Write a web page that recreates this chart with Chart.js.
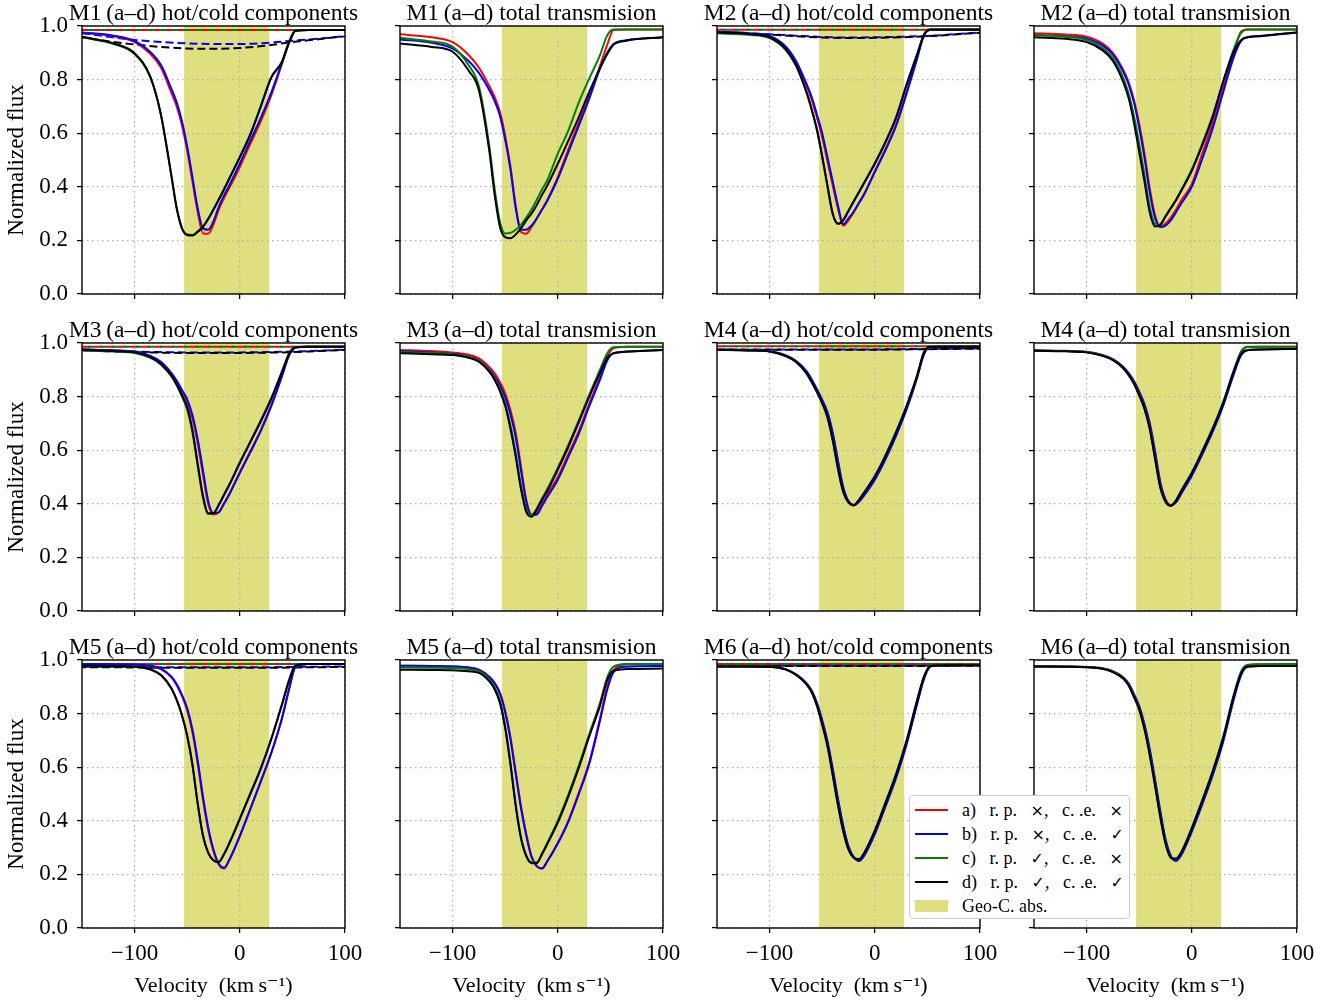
<!DOCTYPE html>
<html>
<head>
<meta charset="utf-8">
<title>Line profiles M1–M6</title>
<script src="https://cdn.jsdelivr.net/npm/chart.js@4.4.0/dist/chart.umd.min.js"></script>
<style>
  html, body { margin: 0; padding: 0; background: #fff; }
  #figure { position: relative; width: 1334px; height: 1003px; overflow: hidden; }
  #figure canvas { position: absolute; }
  #legend {
    position: absolute; left: 909px; top: 795px; width: 219px; height: 120px;
    padding-top: 2px; background: #fff; border: 1px solid #cccccc; border-radius: 4px;
    font-family: 'Liberation Serif', 'DejaVu Serif', serif; font-size: 18px; color: #000;
  }
  .legend-row { position: relative; height: 24px; line-height: 24px; white-space: pre; }
  .legend-line { position: absolute; left: 5px; top: 11px; width: 33px; height: 2px; }
  .legend-patch { position: absolute; left: 5px; top: 6px; width: 33px; height: 12px; }
  .legend-text { position: absolute; left: 52px; top: 0; }
  .legend-sym { font-family: 'DejaVu Sans', sans-serif; font-size: 16px; }
</style>
</head>
<body>
<div id="figure"></div>
<script>
// ---------- Data ----------
// velocity grid (km/s) shared by the solid profiles
const velocity = [-150, -120, -100, -85, -75, -65, -60, -55, -50, -45, -40, -35, -30, -25, -20, -15, -10, 0, 10, 20, 30, 40, 47, 53, 65, 100];
// coarser grid for the dashed component profiles
const velocityDash = [-150, -125, -100, -75, -50, -25, 0, 25, 50, 75, 100];

const geoBand = [-53, 28];
const xTickValues = [-100, 0, 100];

// M1
const m1SplitRed   = [0.975,0.962,0.940,0.895,0.845,0.750,0.700,0.630,0.535,0.420,0.305,0.226,0.225,0.260,0.315,0.358,0.395,0.474,0.560,0.645,0.742,0.858,0.940,0.982,0.985,0.985];
const m1SplitBlue  = [0.976,0.964,0.944,0.903,0.855,0.765,0.715,0.645,0.550,0.435,0.320,0.245,0.240,0.272,0.325,0.368,0.405,0.486,0.572,0.657,0.752,0.862,0.940,0.982,0.985,0.985];
const m1SplitGreen = [0.958,0.933,0.895,0.808,0.668,0.442,0.322,0.247,0.222,0.220,0.234,0.252,0.282,0.317,0.354,0.392,0.432,0.512,0.597,0.702,0.810,0.867,0.943,0.983,0.985,0.985];
const m1SplitBlack = [0.960,0.935,0.898,0.810,0.670,0.440,0.320,0.245,0.220,0.218,0.232,0.250,0.280,0.315,0.352,0.390,0.430,0.510,0.595,0.700,0.808,0.865,0.940,0.982,0.985,0.985];
const m1DashRed    = [0.985,0.985,0.985,0.985,0.985,0.985,0.985,0.985,0.985,0.985,0.985];
const m1DashBlue   = [0.973,0.960,0.948,0.940,0.935,0.933,0.933,0.937,0.945,0.953,0.962];
const m1DashGreen  = [0.985,0.985,0.985,0.985,0.985,0.985,0.985,0.985,0.985,0.985,0.985];
const m1DashBlack  = [0.958,0.943,0.931,0.922,0.916,0.915,0.918,0.927,0.940,0.951,0.962];
const m1TotalRed   = [0.969,0.958,0.940,0.893,0.845,0.775,0.735,0.680,0.590,0.475,0.330,0.232,0.225,0.250,0.282,0.315,0.350,0.436,0.540,0.640,0.740,0.850,0.930,0.985,0.987,0.987];
const m1TotalBlue  = [0.950,0.937,0.916,0.870,0.825,0.760,0.720,0.665,0.575,0.465,0.320,0.240,0.240,0.255,0.282,0.315,0.348,0.430,0.528,0.628,0.730,0.840,0.900,0.933,0.947,0.958];
const m1TotalGreen = [0.956,0.942,0.923,0.855,0.775,0.550,0.390,0.270,0.226,0.228,0.240,0.258,0.285,0.315,0.352,0.390,0.425,0.524,0.610,0.715,0.805,0.890,0.965,0.987,0.987,0.987];
const m1TotalBlack = [0.935,0.922,0.904,0.835,0.760,0.530,0.370,0.250,0.212,0.208,0.222,0.245,0.275,0.300,0.332,0.370,0.405,0.486,0.572,0.660,0.755,0.842,0.895,0.930,0.945,0.958];

// M2
const m2SplitRed   = [0.978,0.972,0.961,0.922,0.866,0.778,0.725,0.658,0.585,0.495,0.405,0.318,0.255,0.275,0.305,0.340,0.375,0.458,0.540,0.630,0.750,0.880,0.970,0.986,0.986,0.986];
const m2SplitBlue  = [0.979,0.973,0.963,0.925,0.870,0.785,0.735,0.670,0.600,0.510,0.420,0.330,0.260,0.282,0.308,0.340,0.372,0.455,0.535,0.625,0.745,0.875,0.968,0.985,0.985,0.985];
const m2SplitGreen = [0.973,0.967,0.955,0.912,0.852,0.752,0.686,0.610,0.510,0.400,0.298,0.262,0.277,0.312,0.347,0.382,0.417,0.488,0.567,0.657,0.780,0.893,0.970,0.987,0.987,0.987];
const m2SplitBlack = [0.976,0.970,0.958,0.915,0.855,0.755,0.690,0.615,0.515,0.405,0.300,0.262,0.275,0.310,0.345,0.380,0.415,0.486,0.565,0.655,0.777,0.890,0.968,0.987,0.987,0.987];
const m2DashRed    = [0.986,0.986,0.986,0.986,0.986,0.986,0.986,0.986,0.986,0.986,0.986];
const m2DashBlue   = [0.976,0.972,0.969,0.964,0.959,0.957,0.958,0.960,0.963,0.969,0.976];
const m2DashGreen  = [0.986,0.986,0.986,0.986,0.986,0.986,0.986,0.986,0.986,0.986,0.986];
const m2DashBlack  = [0.975,0.971,0.968,0.962,0.957,0.955,0.956,0.958,0.962,0.968,0.975];
const m2TotalRed   = [0.973,0.968,0.960,0.935,0.900,0.835,0.790,0.725,0.635,0.525,0.395,0.295,0.252,0.262,0.285,0.315,0.350,0.410,0.525,0.640,0.770,0.900,0.980,0.987,0.987,0.987];
const m2TotalBlue  = [0.966,0.962,0.953,0.928,0.893,0.828,0.782,0.715,0.622,0.510,0.380,0.285,0.250,0.255,0.275,0.305,0.338,0.400,0.505,0.620,0.755,0.885,0.945,0.958,0.962,0.976];
const m2TotalGreen = [0.966,0.960,0.948,0.918,0.880,0.805,0.748,0.665,0.560,0.445,0.325,0.262,0.258,0.288,0.320,0.352,0.388,0.465,0.562,0.668,0.795,0.915,0.975,0.987,0.987,0.987];
const m2TotalBlack = [0.958,0.952,0.940,0.910,0.870,0.790,0.730,0.640,0.530,0.420,0.305,0.252,0.258,0.290,0.320,0.350,0.385,0.460,0.555,0.662,0.795,0.905,0.948,0.958,0.963,0.976];

// M3
const m3SplitRed   = [0.976,0.972,0.967,0.950,0.927,0.884,0.855,0.818,0.780,0.718,0.625,0.508,0.398,0.360,0.368,0.402,0.437,0.518,0.596,0.676,0.770,0.878,0.957,0.983,0.986,0.986];
const m3SplitBlue  = [0.976,0.973,0.968,0.952,0.930,0.888,0.860,0.825,0.790,0.730,0.640,0.525,0.410,0.365,0.368,0.400,0.435,0.515,0.592,0.672,0.765,0.875,0.955,0.982,0.986,0.986];
const m3SplitGreen = [0.972,0.968,0.963,0.945,0.920,0.875,0.842,0.800,0.752,0.665,0.540,0.422,0.362,0.365,0.397,0.435,0.472,0.555,0.633,0.712,0.796,0.893,0.962,0.985,0.986,0.986];
const m3SplitBlack = [0.974,0.970,0.965,0.947,0.922,0.878,0.845,0.805,0.760,0.675,0.550,0.430,0.365,0.365,0.395,0.433,0.470,0.552,0.630,0.708,0.792,0.890,0.960,0.985,0.986,0.986];
const m3DashRed    = [0.986,0.986,0.986,0.986,0.986,0.986,0.986,0.986,0.986,0.986,0.986];
const m3DashBlue   = [0.976,0.971,0.968,0.966,0.965,0.965,0.965,0.966,0.968,0.971,0.975];
const m3DashGreen  = [0.986,0.986,0.986,0.986,0.986,0.986,0.986,0.986,0.986,0.986,0.986];
const m3DashBlack  = [0.974,0.969,0.966,0.964,0.963,0.963,0.963,0.964,0.966,0.970,0.974];
const m3TotalRed   = [0.974,0.970,0.965,0.957,0.943,0.910,0.887,0.855,0.812,0.750,0.665,0.540,0.416,0.360,0.365,0.400,0.435,0.500,0.585,0.672,0.775,0.872,0.950,0.980,0.986,0.986];
const m3TotalBlue  = [0.970,0.965,0.960,0.950,0.935,0.900,0.875,0.842,0.798,0.735,0.648,0.525,0.408,0.358,0.360,0.392,0.425,0.490,0.575,0.662,0.765,0.862,0.935,0.962,0.968,0.974];
const m3TotalGreen = [0.967,0.963,0.958,0.948,0.933,0.896,0.868,0.828,0.775,0.692,0.588,0.468,0.380,0.358,0.382,0.420,0.455,0.535,0.620,0.712,0.808,0.900,0.962,0.984,0.986,0.986];
const m3TotalBlack = [0.962,0.958,0.955,0.945,0.930,0.892,0.862,0.820,0.765,0.680,0.575,0.455,0.370,0.352,0.378,0.415,0.448,0.527,0.612,0.705,0.800,0.888,0.945,0.962,0.967,0.974];

// M4
const m4SplitRed   = [0.975,0.973,0.969,0.954,0.933,0.894,0.862,0.826,0.786,0.740,0.662,0.557,0.460,0.408,0.394,0.408,0.433,0.492,0.567,0.655,0.753,0.870,0.962,0.986,0.987,0.987];
const m4SplitBlue  = [0.975,0.973,0.969,0.955,0.934,0.895,0.864,0.828,0.788,0.742,0.665,0.560,0.462,0.410,0.395,0.408,0.432,0.490,0.565,0.652,0.750,0.868,0.960,0.985,0.986,0.986];
const m4SplitGreen = [0.974,0.972,0.968,0.951,0.929,0.886,0.853,0.816,0.774,0.722,0.636,0.530,0.443,0.404,0.396,0.416,0.444,0.504,0.580,0.667,0.764,0.877,0.969,0.986,0.987,0.987];
const m4SplitBlack = [0.974,0.972,0.968,0.952,0.930,0.888,0.855,0.818,0.776,0.724,0.638,0.532,0.445,0.405,0.395,0.415,0.442,0.502,0.578,0.665,0.762,0.875,0.968,0.986,0.986,0.986];
const m4DashRed    = [0.988,0.988,0.988,0.988,0.988,0.988,0.988,0.988,0.988,0.988,0.988];
const m4DashBlue   = [0.976,0.976,0.976,0.976,0.976,0.976,0.976,0.977,0.978,0.979,0.980];
const m4DashGreen  = [0.988,0.988,0.988,0.988,0.988,0.988,0.988,0.988,0.988,0.988,0.988];
const m4DashBlack  = [0.975,0.975,0.975,0.975,0.975,0.975,0.975,0.976,0.977,0.978,0.979];
const m4TotalRed   = [0.973,0.971,0.967,0.955,0.940,0.911,0.888,0.858,0.818,0.772,0.702,0.597,0.482,0.417,0.395,0.407,0.440,0.508,0.588,0.674,0.772,0.890,0.965,0.985,0.986,0.986];
const m4TotalBlue  = [0.972,0.970,0.966,0.954,0.939,0.910,0.887,0.857,0.817,0.770,0.700,0.595,0.480,0.415,0.393,0.405,0.438,0.505,0.585,0.670,0.768,0.885,0.955,0.973,0.976,0.978];
const m4TotalGreen = [0.972,0.970,0.966,0.953,0.937,0.906,0.881,0.849,0.806,0.757,0.682,0.572,0.464,0.410,0.395,0.414,0.450,0.517,0.598,0.684,0.782,0.900,0.970,0.986,0.986,0.986];
const m4TotalBlack = [0.971,0.969,0.965,0.952,0.936,0.905,0.880,0.848,0.805,0.755,0.680,0.570,0.462,0.408,0.393,0.412,0.448,0.515,0.595,0.680,0.778,0.895,0.960,0.974,0.976,0.978];

// M5
const m5SplitRed   = [0.985,0.984,0.983,0.978,0.966,0.935,0.906,0.865,0.812,0.730,0.612,0.478,0.365,0.286,0.237,0.222,0.253,0.342,0.443,0.546,0.653,0.780,0.893,0.974,0.985,0.985];
const m5SplitBlue  = [0.985,0.984,0.983,0.979,0.968,0.938,0.910,0.870,0.820,0.740,0.625,0.490,0.375,0.292,0.240,0.225,0.255,0.344,0.445,0.548,0.655,0.782,0.895,0.975,0.985,0.985];
const m5SplitGreen = [0.978,0.977,0.975,0.964,0.943,0.893,0.850,0.792,0.715,0.607,0.462,0.343,0.280,0.253,0.248,0.277,0.318,0.409,0.503,0.598,0.708,0.835,0.928,0.981,0.985,0.985];
const m5SplitBlack = [0.979,0.978,0.976,0.965,0.945,0.895,0.852,0.795,0.718,0.610,0.465,0.345,0.280,0.252,0.246,0.275,0.315,0.406,0.500,0.595,0.705,0.832,0.925,0.980,0.985,0.985];
const m5DashRed    = [0.985,0.985,0.985,0.985,0.985,0.985,0.985,0.985,0.985,0.985,0.985];
const m5DashBlue   = [0.975,0.975,0.974,0.973,0.973,0.973,0.973,0.973,0.974,0.975,0.976];
const m5DashGreen  = [0.985,0.985,0.985,0.985,0.985,0.985,0.985,0.985,0.985,0.985,0.985];
const m5DashBlack  = [0.973,0.973,0.972,0.971,0.971,0.971,0.971,0.971,0.972,0.973,0.974];
const m5TotalRed   = [0.979,0.978,0.976,0.972,0.964,0.938,0.915,0.878,0.810,0.712,0.583,0.455,0.352,0.268,0.232,0.222,0.250,0.318,0.400,0.505,0.620,0.780,0.900,0.962,0.983,0.985];
const m5TotalBlue  = [0.979,0.978,0.976,0.972,0.963,0.936,0.912,0.874,0.805,0.705,0.575,0.447,0.345,0.265,0.230,0.222,0.248,0.315,0.396,0.500,0.614,0.772,0.890,0.955,0.975,0.978];
const m5TotalGreen = [0.972,0.971,0.970,0.966,0.958,0.928,0.898,0.848,0.752,0.618,0.462,0.340,0.272,0.245,0.245,0.278,0.318,0.400,0.498,0.606,0.725,0.838,0.935,0.975,0.985,0.985];
const m5TotalBlack = [0.964,0.963,0.962,0.958,0.952,0.920,0.890,0.840,0.745,0.610,0.455,0.335,0.268,0.242,0.242,0.275,0.313,0.393,0.490,0.598,0.716,0.828,0.925,0.960,0.966,0.968];

// M6
const m6SplitRed   = [0.977,0.976,0.975,0.966,0.946,0.913,0.884,0.837,0.771,0.693,0.590,0.478,0.378,0.302,0.264,0.251,0.272,0.353,0.455,0.560,0.685,0.835,0.934,0.977,0.981,0.982];
const m6SplitBlue  = [0.976,0.976,0.975,0.966,0.947,0.914,0.886,0.840,0.775,0.698,0.595,0.482,0.382,0.305,0.265,0.250,0.270,0.350,0.452,0.557,0.682,0.832,0.932,0.976,0.980,0.980];
const m6SplitGreen = [0.976,0.976,0.975,0.965,0.945,0.909,0.879,0.829,0.758,0.678,0.570,0.458,0.361,0.292,0.262,0.257,0.282,0.364,0.467,0.573,0.698,0.848,0.942,0.978,0.981,0.982];
const m6SplitBlack = [0.976,0.976,0.975,0.965,0.945,0.910,0.880,0.830,0.760,0.680,0.572,0.460,0.362,0.293,0.262,0.256,0.280,0.362,0.465,0.570,0.695,0.845,0.940,0.978,0.980,0.980];
const m6DashRed    = [0.985,0.985,0.985,0.985,0.985,0.985,0.985,0.985,0.985,0.985,0.985];
const m6DashBlue   = [0.979,0.979,0.979,0.979,0.979,0.979,0.979,0.979,0.979,0.979,0.980];
const m6DashGreen  = [0.985,0.985,0.985,0.985,0.985,0.985,0.985,0.985,0.985,0.985,0.985];
const m6DashBlack  = [0.978,0.978,0.978,0.978,0.978,0.978,0.978,0.978,0.978,0.979,0.979];
const m6TotalRed   = [0.977,0.976,0.974,0.969,0.958,0.935,0.912,0.872,0.826,0.757,0.663,0.550,0.432,0.328,0.268,0.252,0.275,0.362,0.465,0.575,0.702,0.860,0.950,0.980,0.984,0.985];
const m6TotalBlue  = [0.976,0.975,0.973,0.968,0.957,0.934,0.911,0.872,0.828,0.760,0.668,0.556,0.438,0.332,0.270,0.250,0.272,0.360,0.462,0.572,0.698,0.855,0.945,0.975,0.978,0.978];
const m6TotalGreen = [0.977,0.976,0.974,0.968,0.956,0.931,0.906,0.864,0.817,0.745,0.648,0.535,0.418,0.318,0.264,0.259,0.284,0.374,0.478,0.588,0.716,0.872,0.958,0.982,0.984,0.985];
const m6TotalBlack = [0.976,0.975,0.973,0.967,0.955,0.930,0.905,0.862,0.815,0.742,0.645,0.532,0.415,0.315,0.262,0.258,0.282,0.372,0.475,0.585,0.712,0.868,0.952,0.976,0.978,0.978];

// ---------- Style ----------
const MODEL_COLORS = ["#ff0000", "#0000ff", "#008000", "#000000"];
const BAND_COLOR = "#dfdf80";
const SERIF = "'Liberation Serif', 'DejaVu Serif', serif";
const legendLabels = [
  "a)   r. p.   \u00d7,   c. .e.   \u00d7",
  "b)   r. p.   \u00d7,   c. .e.   \u2713",
  "c)   r. p.   \u2713,   c. .e.   \u00d7",
  "d)   r. p.   \u2713,   c. .e.   \u2713",
  "Geo-C. abs."
];

// grid of panels: plot-area corners in page pixels
const colLeft = [82, 400, 717, 1034];
const rowTop = [26, 343, 660];
const PLOT_W = 263;
const PLOT_H = 268;
const AXIS_W = 82;      // room left of each plot for y ticks / label
const TITLE_H = 26;
const PAD_RIGHT = 30;

const panels = [
  { title: "M1\u2009(a\u2013d) hot/cold components", solid: [m1SplitRed, m1SplitBlue, m1SplitGreen, m1SplitBlack], dashed: [m1DashRed, m1DashBlue, m1DashGreen, m1DashBlack] },
  { title: "M1\u2009(a\u2013d) total transmision", solid: [m1TotalRed, m1TotalBlue, m1TotalGreen, m1TotalBlack], dashed: null },
  { title: "M2\u2009(a\u2013d) hot/cold components", solid: [m2SplitRed, m2SplitBlue, m2SplitGreen, m2SplitBlack], dashed: [m2DashRed, m2DashBlue, m2DashGreen, m2DashBlack] },
  { title: "M2\u2009(a\u2013d) total transmision", solid: [m2TotalRed, m2TotalBlue, m2TotalGreen, m2TotalBlack], dashed: null },
  { title: "M3\u2009(a\u2013d) hot/cold components", solid: [m3SplitRed, m3SplitBlue, m3SplitGreen, m3SplitBlack], dashed: [m3DashRed, m3DashBlue, m3DashGreen, m3DashBlack] },
  { title: "M3\u2009(a\u2013d) total transmision", solid: [m3TotalRed, m3TotalBlue, m3TotalGreen, m3TotalBlack], dashed: null },
  { title: "M4\u2009(a\u2013d) hot/cold components", solid: [m4SplitRed, m4SplitBlue, m4SplitGreen, m4SplitBlack], dashed: [m4DashRed, m4DashBlue, m4DashGreen, m4DashBlack] },
  { title: "M4\u2009(a\u2013d) total transmision", solid: [m4TotalRed, m4TotalBlue, m4TotalGreen, m4TotalBlack], dashed: null },
  { title: "M5\u2009(a\u2013d) hot/cold components", solid: [m5SplitRed, m5SplitBlue, m5SplitGreen, m5SplitBlack], dashed: [m5DashRed, m5DashBlue, m5DashGreen, m5DashBlack] },
  { title: "M5\u2009(a\u2013d) total transmision", solid: [m5TotalRed, m5TotalBlue, m5TotalGreen, m5TotalBlack], dashed: null },
  { title: "M6\u2009(a\u2013d) hot/cold components", solid: [m6SplitRed, m6SplitBlue, m6SplitGreen, m6SplitBlack], dashed: [m6DashRed, m6DashBlue, m6DashGreen, m6DashBlack] },
  { title: "M6\u2009(a\u2013d) total transmision", solid: [m6TotalRed, m6TotalBlue, m6TotalGreen, m6TotalBlack], dashed: null }
];

// ---------- Plugins ----------
// shaded geocoronal band, drawn under the grid
const bandPlugin = {
  id: "geoBand",
  beforeDraw(chart) {
    const { ctx, scales: { x, y } } = chart;
    const x0 = x.getPixelForValue(geoBand[0]);
    const x1 = x.getPixelForValue(geoBand[1]);
    const yTop = y.getPixelForValue(1);
    const yBot = y.getPixelForValue(0);
    ctx.save();
    ctx.fillStyle = BAND_COLOR;
    ctx.fillRect(x0, yTop, x1 - x0, yBot - yTop);
    ctx.restore();
  }
};

// box around the plot area
const framePlugin = {
  id: "frame",
  afterDatasetsDraw(chart) {
    const { ctx, chartArea: a } = chart;
    ctx.save();
    ctx.strokeStyle = "#000";
    ctx.lineWidth = 1.4;
    ctx.strokeRect(a.left, a.top, a.right - a.left, a.bottom - a.top);
    ctx.restore();
  }
};

// panel heading, centred on the plot and allowed to run past its edges
const headingPlugin = {
  id: "heading",
  afterDraw(chart, args, opts) {
    const { ctx, chartArea: a } = chart;
    ctx.save();
    ctx.fillStyle = "#000";
    ctx.font = "23.5px " + SERIF;
    ctx.textAlign = "center";
    ctx.textBaseline = "alphabetic";
    ctx.fillText(opts.text, (a.left + a.right) / 2, a.top - 6);
    ctx.restore();
  }
};

// ---------- Build ----------
function lineSet(xs, values, color, dash, dashOffset, order) {
  return {
    data: xs.map((x, i) => ({ x, y: values[i] })),
    borderColor: color,
    borderWidth: 2,
    borderDash: dash,
    borderDashOffset: dashOffset,
    pointRadius: 0,
    fill: false,
    cubicInterpolationMode: "monotone",
    order
  };
}

function formatVelocity(v) {
  return v < 0 ? "\u2212" + Math.abs(v) : String(v);
}

function panelConfig(p, isBottom, isLeft, bottomH) {
  const datasets = [];
  if (p.dashed) {
    datasets.push(lineSet(velocityDash, p.dashed[0], MODEL_COLORS[0], [8, 4], 0, 8));
    datasets.push(lineSet(velocityDash, p.dashed[1], MODEL_COLORS[1], [8, 4], 0, 7));
    datasets.push(lineSet(velocityDash, p.dashed[2], MODEL_COLORS[2], [6, 6], 6, 6));
    datasets.push(lineSet(velocityDash, p.dashed[3], MODEL_COLORS[3], [8, 4], 4, 5));
  }
  p.solid.forEach((vals, k) => {
    datasets.push(lineSet(velocity, vals, MODEL_COLORS[k], [], 0, 4 - k));
  });

  const gridOpts = { color: "#b0b0b0", lineWidth: 1.2, tickColor: "#000", tickWidth: 1.3, tickLength: 5 };
  const tickFont = { family: SERIF, size: 23, lineHeight: "26px" };

  return {
    type: "line",
    data: { datasets },
    plugins: [bandPlugin, framePlugin, headingPlugin],
    options: {
      responsive: false,
      maintainAspectRatio: false,
      animation: false,
      devicePixelRatio: 1,
      layout: { padding: { left: 0, right: PAD_RIGHT, top: TITLE_H, bottom: 0 } },
      plugins: {
        legend: { display: false },
        tooltip: { enabled: false },
        heading: { text: p.title }
      },
      scales: {
        x: {
          type: "linear",
          min: -150,
          max: 100,
          afterBuildTicks: (s) => { s.ticks = xTickValues.map(v => ({ value: v })); },
          afterFit: (s) => { s.height = bottomH; },
          grid: gridOpts,
          border: { display: false, dash: [1.5, 3.5] },
          ticks: {
            display: isBottom,
            padding: 8,
            color: "#000",
            maxRotation: 0,
            font: tickFont,
            callback: (v) => formatVelocity(v)
          },
          title: {
            display: isBottom,
            text: "Velocity  (km\u2009s\u207b\u00b9)",
            color: "#000",
            font: { family: SERIF, size: 22, lineHeight: "24px" },
            padding: { top: 0, bottom: 4 }
          }
        },
        y: {
          min: 0,
          max: 1,
          afterFit: (s) => { s.width = AXIS_W; },
          grid: gridOpts,
          border: { display: false, dash: [1.5, 3.5] },
          ticks: {
            display: isLeft,
            stepSize: 0.2,
            padding: 9,
            color: "#000",
            font: tickFont,
            callback: (v) => v.toFixed(1)
          },
          title: {
            display: isLeft,
            text: "Normalized flux",
            color: "#000",
            font: { family: SERIF, size: 23, lineHeight: "24px" },
            padding: { top: 5, bottom: 0 }
          }
        }
      }
    }
  };
}

const figure = document.getElementById("figure");

panels.forEach((p, i) => {
  const row = Math.floor(i / 4);
  const col = i % 4;
  const isBottom = row === 2;
  const isLeft = col === 0;
  const bottomH = isBottom ? 74 : 20;

  const canvas = document.createElement("canvas");
  canvas.width = AXIS_W + PLOT_W + PAD_RIGHT;
  canvas.height = TITLE_H + PLOT_H + bottomH;
  figure.appendChild(canvas);

  let chart = new Chart(canvas, panelConfig(p, isBottom, isLeft, bottomH));

  // tick-label overflow can shrink the plot area; grow the canvas to compensate
  const a = chart.chartArea;
  const dW = Math.round(PLOT_W - (a.right - a.left));
  const dH = Math.round(PLOT_H - (a.bottom - a.top));
  if (dW !== 0 || dH !== 0) {
    const w = canvas.width + dW;
    const h = canvas.height + dH;
    chart.destroy();
    canvas.width = w;
    canvas.height = h;
    chart = new Chart(canvas, panelConfig(p, isBottom, isLeft, bottomH));
  }

  canvas.style.left = (colLeft[col] - chart.chartArea.left) + "px";
  canvas.style.top = (rowTop[row] - chart.chartArea.top) + "px";
});

// ---------- Legend ----------
function addTextWithSymbols(el, label) {
  // × and ✓ come from a font that draws them at a readable size
  label.split(/([\u00d7\u2713])/).forEach(part => {
    if (!part) return;
    if (part === "\u00d7" || part === "\u2713") {
      const s = document.createElement("span");
      s.className = "legend-sym";
      s.textContent = part;
      el.appendChild(s);
    } else {
      el.appendChild(document.createTextNode(part));
    }
  });
}

const legend = document.createElement("div");
legend.id = "legend";
legendLabels.forEach((label, k) => {
  const rowEl = document.createElement("div");
  rowEl.className = "legend-row";
  const mark = document.createElement("span");
  if (k < MODEL_COLORS.length) {
    mark.className = "legend-line";
    mark.style.background = MODEL_COLORS[k];
  } else {
    mark.className = "legend-patch";
    mark.style.background = BAND_COLOR;
  }
  const text = document.createElement("span");
  text.className = "legend-text";
  addTextWithSymbols(text, label);
  rowEl.appendChild(mark);
  rowEl.appendChild(text);
  legend.appendChild(rowEl);
});
figure.appendChild(legend);
</script>
</body>
</html>
